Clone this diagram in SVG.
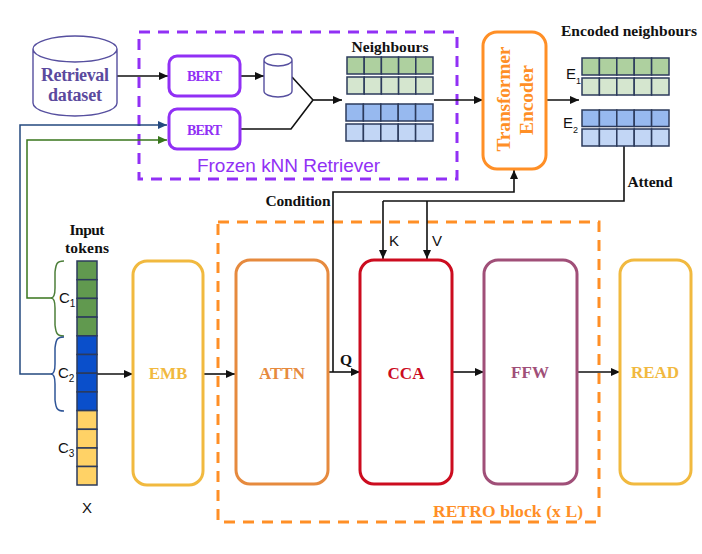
<svg xmlns="http://www.w3.org/2000/svg" width="702" height="554" viewBox="0 0 702 554">
<style>
text{font-family:"Liberation Serif",serif;font-weight:bold;text-anchor:middle}
.s{font-family:"Liberation Sans",sans-serif;font-weight:normal;fill:#111;font-size:15px}
.st{text-anchor:start}
.l{fill:#111;font-size:15.500px}
.box{fill:#fff;stroke-width:3}
.b{font-size:17px}
.c{fill:none;stroke:#111;stroke-width:1.600}
.cell{stroke:#2c3b5c;stroke-width:1.500}
.db{fill:#fff;stroke:#564f9f;stroke-width:1.400}
.g1{fill:#aed09f}.g2{fill:#d5e6cf}.b1{fill:#97b9ef}.b2{fill:#c2d6f5}
.tg{fill:#61994f}.tb{fill:#0a4fcb}.ty{fill:#ffd266}
.dash{fill:none;stroke-width:3;stroke-dasharray:11 8}
</style>
<defs>
<marker id="a" markerUnits="userSpaceOnUse" markerWidth="10" markerHeight="8" refX="9" refY="4" orient="auto"><path d="M0 0L9 4L0 8z" fill="#111"/></marker>
<marker id="ab" markerUnits="userSpaceOnUse" markerWidth="10" markerHeight="8" refX="9" refY="4" orient="auto"><path d="M0 0L9 4L0 8z" fill="#24497f"/></marker>
<marker id="ag" markerUnits="userSpaceOnUse" markerWidth="10" markerHeight="8" refX="9" refY="4" orient="auto"><path d="M0 0L9 4L0 8z" fill="#38761d"/></marker>
</defs>
<rect width="702" height="554" fill="#fff"/>
<g id="retriever-frame"><rect class="dash" x="139" y="32" width="318" height="147" stroke="#9130f5"/><text x="288.500" y="172" style="font-family:'Liberation Sans',sans-serif;font-weight:normal;font-size:19px" fill="#9130f5" textLength="183">Frozen kNN Retriever</text></g>
<g id="retro-frame"><rect class="dash" x="218" y="222" width="381" height="300" stroke="#ff8f26"/><text x="508" y="517" font-size="17.500" fill="#ff8f26" textLength="150">RETRO block (x L)</text></g>
<g id="connectors">
<path class="c" marker-end="url(#a)" d="M117 76H168"/>
<path class="c" marker-end="url(#a)" d="M240 76H264"/>
<path class="c" d="M292 77L313 100M240 129H291L313 100"/>
<path class="c" marker-end="url(#a)" d="M313 100H342"/>
<path class="c" marker-end="url(#a)" d="M434 100H483"/>
<path class="c" marker-end="url(#a)" d="M546 100H579"/>
<path class="c" marker-end="url(#a)" d="M333 372V192H514V170"/>
<path class="c" d="M624 146V201H383"/>
<path class="c" marker-end="url(#a)" d="M383 201V259"/>
<path class="c" marker-end="url(#a)" d="M427 201V259"/>
<path class="c" marker-end="url(#a)" d="M97 374H133"/>
<path class="c" marker-end="url(#a)" d="M203 374H235"/>
<path class="c" marker-end="url(#a)" d="M328 372H360"/>
<path class="c" marker-end="url(#a)" d="M452 372H484"/>
<path class="c" marker-end="url(#a)" d="M577 372H620"/>
<path fill="none" stroke="#38761d" stroke-width="1.500" marker-end="url(#ag)" d="M52 298H27V140H167"/>
<path fill="none" stroke="#24497f" stroke-width="1.500" marker-end="url(#ab)" d="M52 374H20V125H167"/>
<path fill="none" stroke="#4d7f3a" stroke-width="1.500" d="M64 261C56 261 56 265 55 272V288C55 295 54 298 51 298C54 298 55 301 55 308V325C56 332 56 336 64 336"/>
<path fill="none" stroke="#2f5597" stroke-width="1.500" d="M64 337C56 337 56 341 55 348V364C55 371 54 374 51 374C54 374 55 377 55 384V400C56 407 56 411 64 411"/>
</g>
<g id="retrieval-dataset"><path class="db" d="M33 49V103A42 13 0 0 0 117 103V49A42 13 0 0 0 33 49A42 13 0 0 0 117 49"/><text x="75" y="81" font-size="18" fill="#5b4a9e" textLength="68">Retrieval</text><text x="75" y="101" font-size="18" fill="#5b4a9e" textLength="54">dataset</text></g>
<g id="bert-1"><rect class="box" x="169" y="56" width="71" height="40" rx="8" stroke="#9130f5"/><text x="204.500" y="81" font-size="14" fill="#9130f5" textLength="35">BERT</text></g>
<g id="bert-2"><rect class="box" x="169" y="109" width="71" height="40" rx="8" stroke="#9130f5"/><text x="204.500" y="135" font-size="14" fill="#9130f5" textLength="35">BERT</text></g>
<g id="index-db"><path class="db" d="M264 60V91A14 6 0 0 0 292 91V60A14 6 0 0 0 264 60A14 6 0 0 0 292 60"/></g>
<g id="neighbours"><text x="390" y="52" class="l" textLength="77">Neighbours</text>
<g class="cell g1"><rect x="347" y="57" width="17.200" height="17"/><rect x="364.200" y="57" width="17.200" height="17"/><rect x="381.400" y="57" width="17.200" height="17"/><rect x="398.600" y="57" width="17.200" height="17"/><rect x="415.800" y="57" width="17.200" height="17"/></g>
<g class="cell g2"><rect x="347" y="77" width="17.200" height="17"/><rect x="364.200" y="77" width="17.200" height="17"/><rect x="381.400" y="77" width="17.200" height="17"/><rect x="398.600" y="77" width="17.200" height="17"/><rect x="415.800" y="77" width="17.200" height="17"/></g>
<g class="cell b1"><rect x="346" y="104" width="17.400" height="17"/><rect x="363.400" y="104" width="17.400" height="17"/><rect x="380.800" y="104" width="17.400" height="17"/><rect x="398.200" y="104" width="17.400" height="17"/><rect x="415.600" y="104" width="17.400" height="17"/></g>
<g class="cell b2"><rect x="346" y="124" width="17.400" height="17"/><rect x="363.400" y="124" width="17.400" height="17"/><rect x="380.800" y="124" width="17.400" height="17"/><rect x="398.200" y="124" width="17.400" height="17"/><rect x="415.600" y="124" width="17.400" height="17"/></g></g>
<g id="transformer-encoder"><rect class="box" x="483" y="32" width="63" height="137" rx="14" stroke="#ff8f26"/><text transform="translate(510 99) rotate(-90)" font-size="19.500" fill="#ff8f26" textLength="105">Transformer</text><text transform="translate(533 100) rotate(-90)" font-size="19.500" fill="#ff8f26" textLength="70">Encoder</text></g>
<g id="encoded-neighbours"><text x="629" y="36" class="l" textLength="136">Encoded neighbours</text>
<text class="s st" x="566" y="79">E<tspan font-size="9" dy="5">1</tspan></text>
<text class="s st" x="563" y="128">E<tspan font-size="9" dy="5">2</tspan></text>
<g class="cell g1"><rect x="582" y="58" width="17.400" height="17"/><rect x="599.400" y="58" width="17.400" height="17"/><rect x="616.800" y="58" width="17.400" height="17"/><rect x="634.200" y="58" width="17.400" height="17"/><rect x="651.600" y="58" width="17.400" height="17"/></g>
<g class="cell g2"><rect x="582" y="78" width="17.400" height="17"/><rect x="599.400" y="78" width="17.400" height="17"/><rect x="616.800" y="78" width="17.400" height="17"/><rect x="634.200" y="78" width="17.400" height="17"/><rect x="651.600" y="78" width="17.400" height="17"/></g>
<g class="cell b1"><rect x="582" y="110" width="17.400" height="16.500"/><rect x="599.400" y="110" width="17.400" height="16.500"/><rect x="616.800" y="110" width="17.400" height="16.500"/><rect x="634.200" y="110" width="17.400" height="16.500"/><rect x="651.600" y="110" width="17.400" height="16.500"/></g>
<g class="cell b2"><rect x="582" y="129" width="17.400" height="17"/><rect x="599.400" y="129" width="17.400" height="17"/><rect x="616.800" y="129" width="17.400" height="17"/><rect x="634.200" y="129" width="17.400" height="17"/><rect x="651.600" y="129" width="17.400" height="17"/></g></g>
<g id="edge-labels"><text x="650" y="187" class="l" textLength="45">Attend</text><text x="298" y="206" class="l" textLength="65">Condition</text><text class="s" x="394" y="246">K</text><text class="s" x="437" y="246">V</text><text x="346" y="365" class="l">Q</text></g>
<g id="input-tokens"><text x="87" y="235" class="l" textLength="35">Input</text><text x="87" y="253" class="l" textLength="44">tokens</text>
<g class="cell tg"><rect x="77" y="261" width="20" height="18.700"/><rect x="77" y="279.700" width="20" height="18.700"/><rect x="77" y="298.400" width="20" height="18.700"/><rect x="77" y="317.100" width="20" height="18.700"/></g>
<g class="cell tb"><rect x="77" y="335.800" width="20" height="18.700"/><rect x="77" y="354.500" width="20" height="18.700"/><rect x="77" y="373.200" width="20" height="18.700"/><rect x="77" y="391.900" width="20" height="18.700"/></g>
<g class="cell ty"><rect x="77" y="410.600" width="20" height="18.700"/><rect x="77" y="429.300" width="20" height="18.700"/><rect x="77" y="448" width="20" height="18.500"/><rect x="77" y="466.500" width="20" height="18.500"/></g>
<text class="s st" x="59" y="303">C<tspan font-size="10" dy="4">1</tspan></text>
<text class="s st" x="58" y="378">C<tspan font-size="10" dy="4">2</tspan></text>
<text class="s st" x="58" y="453">C<tspan font-size="10" dy="4">3</tspan></text>
<text class="s" x="87" y="513">X</text></g>
<g id="emb"><rect class="box" x="133" y="261" width="70" height="224" rx="14" stroke="#f1b93f"/><text class="b" x="168" y="379" fill="#f1b93f">EMB</text></g>
<g id="attn"><rect class="box" x="236" y="260" width="92" height="224" rx="14" stroke="#e68a3e"/><text class="b" x="282" y="379" fill="#e68a3e">ATTN</text></g>
<g id="cca"><rect class="box" x="360" y="260" width="92" height="224" rx="14" stroke="#cc0c1f"/><text class="b" x="406" y="379" fill="#cc0c1f">CCA</text></g>
<g id="ffw"><rect class="box" x="484" y="260" width="93" height="224" rx="14" stroke="#a04f78"/><text class="b" x="530" y="378" fill="#a04f78">FFW</text></g>
<g id="read"><rect class="box" x="620" y="260" width="71" height="224" rx="14" stroke="#f1b93f"/><text class="b" x="655" y="378" fill="#f1b93f">READ</text></g>
</svg>
